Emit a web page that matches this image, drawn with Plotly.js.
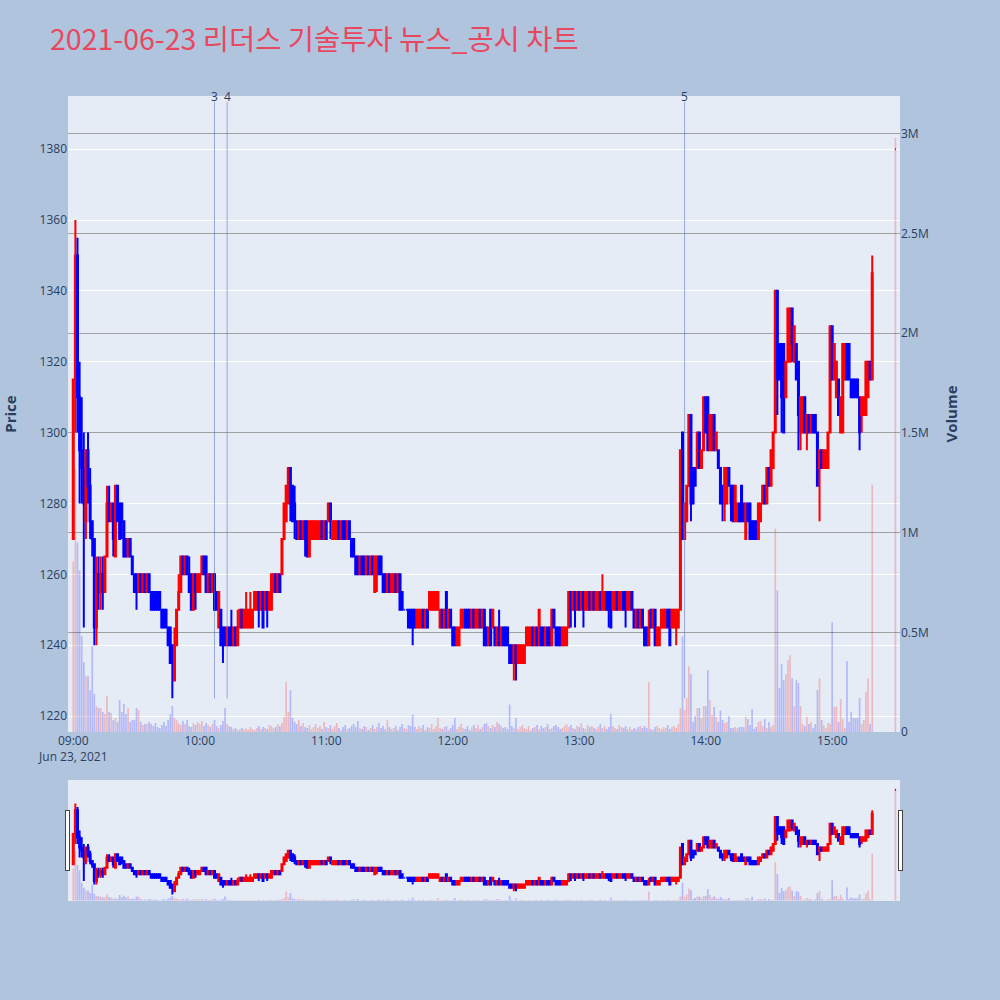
<!DOCTYPE html>
<html>
<head>
<meta charset="utf-8">
<script src="https://cdn.plot.ly/plotly-3.0.1.min.js"></script>
<style>html,body{margin:0;padding:0;background:#B0C4DE;}#chart{width:1000px;height:1000px;}</style>
</head>
<body>
<div id="chart"></div>
<script>
// ---- data ----
const tradeDate = '2021-06-23';
const regularMinutes = 380;              // 09:00 .. 15:19 one-minute candles
const closingAuctionTime = '2021-06-23 15:30:00';

const openP = [
1270,1315,1350,1310,1295,1290,1275,1295,1285,1275,
1270,1245,1260,1255,1260,1255,1265,1280,1275,1280,
1265,1285,1280,1280,1275,1270,1265,1270,1265,1260,
1260,1255,1260,1255,1260,1255,1260,1255,1255,1255,
1255,1255,1250,1250,1250,1245,1245,1240,1230,1240,
1250,1255,1265,1260,1265,1260,1260,1250,1260,1255,
1255,1260,1265,1265,1255,1260,1255,1260,1255,1245,
1250,1245,1245,1240,1245,1245,1240,1245,1240,1245,
1250,1245,1245,1245,1245,1245,1250,1250,1255,1250,
1255,1250,1255,1250,1250,1255,1260,1255,1260,1260,
1270,1275,1280,1290,1285,1280,1275,1270,1275,1270,
1275,1275,1265,1270,1270,1270,1270,1270,1275,1270,
1275,1275,1280,1270,1270,1270,1275,1270,1275,1275,
1270,1275,1270,1270,1265,1265,1260,1265,1265,1260,
1265,1260,1265,1255,1260,1265,1265,1260,1260,1255,
1260,1255,1255,1260,1255,1260,1255,1250,1250,1250,
1250,1250,1250,1245,1245,1245,1250,1245,1250,1250,
1250,1250,1250,1250,1245,1250,1245,1255,1245,1250,
1245,1245,1240,1240,1245,1245,1250,1250,1250,1245,
1250,1245,1245,1250,1245,1250,1245,1240,1250,1245,
1245,1240,1245,1240,1245,1245,1245,1240,1240,1235,
1240,1235,1235,1235,1235,1240,1240,1240,1245,1240,
1245,1240,1245,1245,1240,1245,1245,1240,1250,1245,
1245,1245,1240,1240,1240,1245,1255,1250,1255,1250,
1255,1250,1255,1250,1250,1255,1250,1255,1250,1250,
1255,1250,1250,1255,1255,1255,1250,1250,1255,1250,
1250,1255,1255,1250,1250,1255,1250,1245,1250,1245,
1250,1245,1245,1240,1250,1245,1250,1240,1240,1245,
1245,1245,1250,1250,1245,1245,1245,1245,1250,1300,
1270,1275,1285,1305,1290,1290,1290,1300,1290,1295,
1310,1310,1295,1295,1305,1295,1295,1290,1285,1280,
1280,1290,1285,1285,1275,1275,1280,1285,1280,1270,
1280,1280,1275,1275,1275,1270,1275,1280,1285,1280,
1290,1285,1290,1300,1340,1325,1325,1325,1310,1320,
1320,1335,1320,1325,1320,1300,1300,1310,1300,1305,
1300,1305,1305,1300,1290,1295,1290,1290,1290,1300,
1330,1315,1310,1315,1300,1300,1315,1325,1325,1315,
1315,1315,1315,1310,1305,1305,1305,1310,1320,1315,
1380];

const highP = [
1315,1360,1355,1320,1310,1300,1295,1300,1290,1275,
1270,1265,1265,1265,1265,1265,1285,1285,1280,1280,
1285,1285,1280,1280,1275,1270,1270,1270,1265,1260,
1260,1260,1260,1260,1260,1260,1260,1255,1255,1255,
1255,1255,1250,1250,1250,1245,1245,1240,1245,1250,
1260,1265,1265,1265,1265,1265,1260,1260,1260,1260,
1260,1265,1265,1265,1260,1260,1260,1260,1255,1255,
1250,1245,1245,1245,1245,1250,1245,1245,1250,1250,
1250,1250,1255,1250,1255,1250,1255,1255,1255,1255,
1255,1255,1255,1255,1260,1260,1260,1260,1260,1270,
1280,1285,1290,1290,1285,1285,1275,1275,1275,1275,
1275,1275,1275,1275,1275,1275,1275,1275,1275,1275,
1275,1280,1280,1275,1275,1275,1275,1275,1275,1275,
1275,1275,1270,1270,1265,1265,1265,1265,1265,1265,
1265,1265,1265,1265,1265,1265,1265,1260,1260,1260,
1260,1260,1260,1260,1260,1260,1255,1250,1250,1250,
1250,1250,1250,1250,1250,1250,1250,1250,1250,1255,
1255,1255,1255,1255,1250,1250,1250,1255,1250,1250,
1245,1245,1245,1245,1250,1250,1250,1250,1250,1250,
1250,1250,1250,1250,1250,1250,1245,1245,1250,1250,
1245,1245,1250,1245,1245,1245,1245,1240,1240,1240,
1240,1240,1240,1240,1240,1245,1245,1245,1245,1245,
1245,1250,1245,1245,1245,1245,1245,1250,1250,1245,
1245,1245,1245,1245,1245,1255,1255,1255,1255,1255,
1255,1255,1255,1255,1255,1255,1255,1255,1255,1255,
1255,1260,1255,1255,1255,1255,1255,1255,1255,1255,
1255,1255,1255,1255,1255,1255,1250,1250,1250,1250,
1250,1245,1245,1250,1250,1250,1250,1245,1245,1250,
1250,1250,1250,1250,1250,1250,1250,1250,1295,1300,
1280,1285,1305,1305,1290,1290,1300,1300,1295,1310,
1310,1310,1305,1305,1305,1300,1295,1290,1285,1290,
1290,1290,1285,1285,1285,1280,1280,1285,1280,1280,
1280,1280,1275,1275,1275,1280,1280,1285,1285,1290,
1290,1295,1300,1340,1340,1325,1325,1325,1320,1335,
1335,1335,1330,1325,1320,1310,1310,1310,1305,1305,
1305,1305,1305,1300,1295,1295,1295,1295,1300,1330,
1330,1325,1320,1315,1310,1325,1325,1325,1325,1315,
1315,1315,1315,1310,1310,1310,1320,1320,1320,1350,
1380];

const lowP = [
1270,1300,1300,1280,1280,1245,1270,1280,1270,1265,
1240,1240,1250,1250,1250,1255,1265,1275,1275,1265,
1265,1275,1270,1270,1265,1265,1265,1265,1260,1255,
1250,1255,1255,1255,1255,1255,1255,1250,1250,1250,
1250,1250,1245,1245,1245,1240,1235,1225,1230,1240,
1250,1255,1260,1260,1260,1255,1250,1250,1250,1255,
1255,1260,1260,1255,1255,1255,1255,1250,1250,1245,
1240,1235,1240,1240,1240,1240,1240,1240,1240,1245,
1245,1245,1245,1245,1245,1245,1250,1250,1245,1250,
1245,1250,1245,1250,1250,1255,1255,1255,1255,1260,
1270,1275,1280,1275,1275,1270,1270,1270,1270,1270,
1265,1265,1265,1270,1270,1270,1270,1270,1270,1270,
1270,1275,1270,1270,1270,1270,1270,1270,1270,1270,
1270,1270,1265,1265,1260,1260,1260,1260,1260,1260,
1260,1260,1260,1255,1255,1260,1260,1255,1255,1255,
1255,1255,1255,1255,1255,1250,1250,1250,1250,1245,
1245,1240,1245,1245,1245,1245,1245,1245,1245,1250,
1250,1250,1250,1250,1245,1245,1245,1245,1245,1245,
1240,1240,1240,1240,1245,1245,1245,1245,1245,1245,
1245,1245,1245,1245,1245,1240,1240,1240,1240,1245,
1240,1240,1240,1240,1240,1240,1240,1235,1235,1230,
1230,1235,1235,1235,1235,1240,1240,1240,1240,1240,
1240,1240,1240,1240,1240,1240,1240,1240,1245,1240,
1240,1240,1240,1240,1240,1245,1245,1250,1245,1250,
1250,1250,1245,1250,1250,1250,1250,1250,1250,1250,
1250,1250,1250,1250,1245,1245,1250,1250,1250,1250,
1250,1250,1245,1250,1250,1250,1245,1245,1245,1245,
1245,1240,1240,1240,1245,1245,1240,1240,1240,1245,
1245,1245,1245,1240,1245,1245,1240,1245,1250,1270,
1270,1275,1285,1275,1280,1285,1290,1290,1290,1295,
1300,1295,1295,1295,1295,1295,1290,1280,1275,1275,
1280,1285,1275,1275,1275,1275,1275,1275,1275,1270,
1275,1270,1270,1270,1270,1270,1275,1280,1280,1280,
1285,1285,1290,1300,1305,1315,1300,1300,1310,1320,
1320,1320,1320,1315,1295,1295,1300,1300,1295,1300,
1300,1300,1300,1285,1275,1290,1290,1290,1290,1300,
1315,1315,1310,1305,1300,1300,1315,1315,1315,1310,
1310,1310,1310,1295,1300,1305,1305,1310,1315,1315,
1380];

const closeP = [
1315,1350,1310,1295,1290,1280,1295,1285,1275,1270,
1245,1260,1255,1260,1255,1265,1280,1275,1280,1270,
1285,1275,1270,1275,1265,1265,1270,1265,1260,1255,
1255,1260,1255,1260,1255,1260,1255,1250,1250,1250,
1250,1250,1245,1245,1245,1240,1235,1235,1240,1250,
1255,1265,1260,1265,1260,1255,1250,1260,1255,1260,
1260,1265,1260,1255,1260,1255,1260,1250,1250,1255,
1240,1240,1240,1245,1240,1240,1245,1240,1245,1250,
1245,1250,1250,1250,1250,1250,1255,1255,1250,1255,
1245,1255,1250,1255,1260,1260,1255,1260,1255,1270,
1280,1285,1290,1280,1275,1275,1270,1275,1270,1275,
1270,1265,1275,1275,1275,1275,1275,1275,1270,1275,
1270,1280,1275,1275,1275,1275,1270,1275,1270,1270,
1275,1270,1265,1265,1260,1260,1265,1260,1260,1265,
1260,1265,1260,1265,1265,1260,1260,1255,1255,1260,
1255,1260,1260,1255,1260,1250,1250,1250,1250,1245,
1245,1245,1245,1250,1250,1250,1245,1250,1245,1255,
1255,1255,1255,1255,1250,1245,1250,1245,1250,1245,
1240,1240,1245,1245,1250,1250,1245,1245,1245,1250,
1245,1250,1250,1245,1250,1240,1240,1245,1240,1250,
1240,1245,1240,1245,1240,1240,1240,1235,1235,1240,
1235,1240,1240,1240,1240,1245,1245,1245,1240,1245,
1240,1250,1240,1240,1245,1240,1240,1250,1245,1240,
1240,1240,1245,1245,1245,1255,1250,1255,1250,1255,
1250,1255,1250,1255,1255,1250,1255,1250,1255,1255,
1250,1255,1255,1250,1250,1245,1255,1255,1250,1255,
1255,1250,1250,1255,1255,1250,1245,1250,1245,1250,
1245,1240,1240,1245,1245,1250,1240,1245,1245,1250,
1250,1250,1245,1240,1250,1250,1250,1250,1295,1270,
1280,1285,1305,1280,1280,1285,1300,1290,1295,1310,
1300,1295,1305,1305,1295,1300,1290,1280,1280,1290,
1290,1285,1280,1275,1285,1280,1275,1275,1275,1280,
1275,1270,1270,1270,1270,1280,1280,1285,1280,1290,
1285,1295,1300,1340,1315,1315,1310,1300,1320,1335,
1335,1325,1330,1315,1305,1310,1310,1300,1305,1300,
1305,1300,1300,1285,1295,1290,1295,1295,1300,1330,
1315,1325,1320,1305,1310,1325,1325,1315,1315,1310,
1310,1310,1310,1300,1310,1310,1320,1320,1315,1345,
1380];

const volume = [
856000,1320000,950000,810000,480000,350000,280000,280000,210000,430000,
190000,130000,120000,120000,100000,90000,180000,100000,95000,60000,
70000,50000,160000,100000,140000,90000,120000,50000,60000,60000,
120000,110000,50000,35000,40000,40000,50000,40000,30000,45000,
25000,20000,35000,50000,30000,60000,90000,130000,70000,60000,
45000,35000,55000,40000,60000,30000,25000,45000,35000,50000,
40000,55000,30000,45000,35000,25000,40000,60000,30000,20000,
35000,55000,120000,40000,30000,25000,15000,20000,10000,15000,
20000,12000,18000,10000,25000,15000,10000,20000,30000,15000,
25000,20000,15000,35000,30000,20000,25000,40000,30000,45000,
75000,250000,100000,210000,70000,50000,40000,60000,30000,45000,
25000,20000,35000,15000,25000,40000,20000,30000,15000,50000,
25000,20000,35000,15000,30000,45000,20000,10000,25000,35000,
15000,20000,30000,40000,25000,55000,20000,15000,30000,25000,
10000,20000,35000,15000,25000,45000,20000,30000,15000,60000,
25000,15000,20000,30000,10000,25000,40000,20000,15000,35000,
30000,87000,25000,15000,30000,20000,35000,10000,25000,20000,
40000,15000,30000,70000,20000,15000,25000,30000,10000,20000,
35000,70000,15000,25000,40000,20000,15000,30000,10000,25000,
35000,20000,35000,15000,25000,40000,45000,30000,20000,35000,
25000,50000,40000,30000,20000,25000,15000,138000,30000,20000,
70000,15000,25000,35000,20000,15000,30000,10000,20000,25000,
35000,15000,30000,20000,25000,40000,15000,20000,30000,35000,
25000,15000,20000,30000,40000,25000,35000,20000,15000,30000,
25000,45000,20000,15000,35000,25000,30000,20000,15000,25000,
40000,20000,30000,15000,25000,91000,30000,20000,15000,35000,
25000,20000,30000,15000,25000,10000,20000,15000,25000,30000,
20000,30000,20000,250000,15000,10000,25000,30000,20000,15000,
25000,20000,35000,15000,25000,30000,20000,40000,120000,480000,
110000,170000,330000,290000,50000,80000,120000,120000,70000,130000,
130000,310000,160000,85000,125000,75000,50000,108000,60000,45000,
50000,80000,20000,20000,25000,20000,25000,25000,25000,77000,
65000,35000,115000,15000,25000,50000,55000,30000,65000,20000,
50000,25000,35000,1020000,710000,220000,340000,260000,290000,360000,
385000,270000,130000,260000,245000,130000,40000,30000,77000,40000,
50000,20000,40000,210000,270000,60000,35000,20000,45000,40000,
550000,125000,130000,50000,165000,65000,20000,355000,50000,100000,
70000,70000,70000,170000,40000,60000,200000,270000,40000,1240000,
2980000];

const newsTimes = ['2021-06-23 10:07:00', '2021-06-23 10:13:00', '2021-06-23 13:50:00'];
const newsLabels = ['3', '4', '5'];

// ---- build ----
function pad2(n) { return String(n).padStart(2, '0'); }
const times = [];
for (let i = 0; i < regularMinutes; i++) {
  const t = 9 * 60 + i;
  times.push(tradeDate + ' ' + pad2(Math.floor(t / 60)) + ':' + pad2(t % 60) + ':00');
}
times.push(closingAuctionTime);

const volColors = closeP.map((c, i) => c >= openP[i] ? 'rgba(255,0,0,0.22)' : 'rgba(0,0,255,0.22)');

const xRange = ['2021-06-23 08:57:30', '2021-06-23 15:32:10'];
const lowMark = 1225, highMark = 1393.4;

const candle = {
  type: 'candlestick', x: times, open: openP, high: highP, low: lowP, close: closeP,
  increasing: { line: { color: '#FF0000', width: 2 }, fillcolor: '#FF0000' },
  decreasing: { line: { color: '#0000FF', width: 2 }, fillcolor: '#0000FF' },
  showlegend: false, name: 'Price', hoverinfo: 'skip'
};
const bars = {
  type: 'bar', x: times, y: volume, yaxis: 'y2',
  marker: { color: volColors, line: { width: 0 } },
  showlegend: false, name: 'Volume', hoverinfo: 'skip'
};

const shapes = newsTimes.map(t => ({
  type: 'line', xref: 'x', yref: 'y', x0: t, x1: t, y0: lowMark, y1: highMark,
  line: { color: 'rgba(90,110,190,0.55)', width: 1 }
}));
const annotations = newsTimes.map((t, i) => ({
  x: t, y: 1394.8, xref: 'x', yref: 'y', text: newsLabels[i], showarrow: false,
  yanchor: 'middle', xanchor: 'center', font: { size: 12, color: '#2a3f5f' }
}));

const layout = {
  width: 1000, height: 1000,
  paper_bgcolor: '#B0C4DE', plot_bgcolor: '#E5ECF6',
  margin: { l: 68, r: 100, t: 96, b: 100 },
  font: { family: '"Open Sans", "Noto Sans CJK KR", sans-serif', size: 12, color: '#2a3f5f' },
  title: {
    text: '2021-06-23 리더스 기술투자 뉴스_공시 차트',
    x: 0.05, xanchor: 'left', xref: 'container', y: 0.96, yanchor: 'middle', yref: 'container',
    font: { size: 28.5, color: '#E8485F', family: '"Noto Sans CJK KR", "Noto Sans", sans-serif' }
  },
  showlegend: false,
  bargap: 0.2,
  xaxis: {
    type: 'date', range: xRange, showgrid: false, zeroline: false,
    rangeslider: { visible: true, range: xRange, thickness: 0.15 }
  },
  yaxis: {
    title: { text: '<b>Price</b>', font: { size: 15 }, standoff: 22 }, range: [1215.5, 1395],
    gridcolor: '#FFFFFF', zeroline: false
  },
  yaxis2: {
    title: { text: '<b>Volume</b>', font: { size: 15 }, standoff: 18 }, overlaying: 'y', side: 'right',
    range: [0, 3190000], gridcolor: '#A0A0A0', gridwidth: 1.3, zeroline: false, showgrid: true
  },
  shapes: shapes,
  annotations: annotations
};

Plotly.newPlot('chart', [candle, bars], layout, { displayModeBar: false });
</script>
</body>
</html>
